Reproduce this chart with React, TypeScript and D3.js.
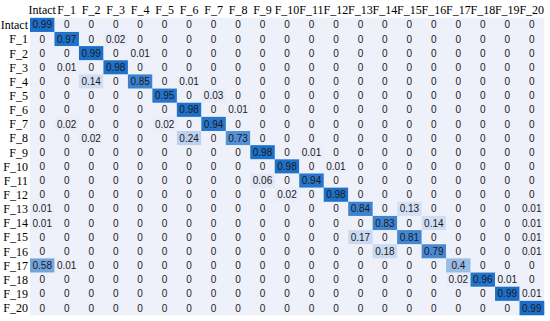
import React from "react";
import * as d3 from "d3";

const labels = ["Intact", ...Array.from({ length: 20 }, (_, i) => `F_${i + 1}`)];

// sparse entries per row: [colIndex, value]
const rIntact = [[0, 0.99]];
const rF1 = [[1, 0.97], [3, 0.02]];
const rF2 = [[2, 0.99], [4, 0.01]];
const rF3 = [[1, 0.01], [3, 0.98]];
const rF4 = [[2, 0.14], [4, 0.85], [6, 0.01]];
const rF5 = [[5, 0.95], [7, 0.03]];
const rF6 = [[6, 0.98], [8, 0.01]];
const rF7 = [[1, 0.02], [5, 0.02], [7, 0.94]];
const rF8 = [[2, 0.02], [6, 0.24], [8, 0.73]];
const rF9 = [[9, 0.98], [11, 0.01]];
const rF10 = [[10, 0.98], [12, 0.01]];
const rF11 = [[9, 0.06], [11, 0.94]];
const rF12 = [[10, 0.02], [12, 0.98]];
const rF13 = [[0, 0.01], [13, 0.84], [15, 0.13], [20, 0.01]];
const rF14 = [[0, 0.01], [14, 0.83], [16, 0.14], [20, 0.01]];
const rF15 = [[13, 0.17], [15, 0.81], [20, 0.01]];
const rF16 = [[14, 0.18], [16, 0.79], [20, 0.01]];
const rF17 = [[0, 0.58], [1, 0.01], [17, 0.4]];
const rF18 = [[17, 0.02], [18, 0.96], [19, 0.01]];
const rF19 = [[19, 0.99], [20, 0.01]];
const rF20 = [[20, 0.99]];

const rows = [rIntact, rF1, rF2, rF3, rF4, rF5, rF6, rF7, rF8, rF9, rF10, rF11, rF12, rF13, rF14, rF15, rF16, rF17, rF18, rF19, rF20];

const matrix: number[][] = rows.map((r) => {
  const a = new Array(labels.length).fill(0);
  r.forEach(([c, v]) => (a[c] = v));
  return a;
});

export default function App() {
  const W = 550, H = 321;
  const left = 30, right = 544, top = 17.8, bottom = 315;
  const x = d3.scaleBand<string>().domain(labels).range([left, right]);
  const y = d3.scaleBand<string>().domain(labels).range([top, bottom]);
  const color = d3.scaleLinear<string>().domain([0, 1]).range(["#eef0fa", "#1a6ec8"]).interpolate(d3.interpolateRgb);
  const fmt = (v: number) => (v === 0 ? "0" : String(+v.toFixed(2)));
  return (
    <svg width={W} height={H} style={{ position: "absolute", left: 0, top: 0, background: "#fff" }}>
      {matrix.map((row, i) =>
        row.map((v, j) => (
          <rect key={`r${i}-${j}`} x={x(labels[j])} y={y(labels[i])} width={x.bandwidth() + 0.3} height={y.bandwidth() + 0.3} fill={color(v)} />
        ))
      )}
      {matrix.map((row, i) =>
        row.map((v, j) => (
          <text key={`t${i}-${j}`} x={x(labels[j])! + x.bandwidth() / 2} y={y(labels[i])! + y.bandwidth() / 2} dy="0.36em" textAnchor="middle" fontFamily="Liberation Sans, Arial, sans-serif" fontSize={10} fill="#1a1a1a">
            {fmt(v)}
          </text>
        ))
      )}
      {labels.map((l) => (
        <text key={`c${l}`} x={x(l)! + x.bandwidth() / 2} y={10} dy="0.36em" textAnchor="middle" fontFamily="Liberation Serif, Times New Roman, serif" fontSize={12} fill="#000">
          {l}
        </text>
      ))}
      {labels.map((l) => (
        <text key={`rl${l}`} x={28} y={y(l)! + y.bandwidth() / 2} dy="0.36em" textAnchor="end" fontFamily="Liberation Serif, Times New Roman, serif" fontSize={12} fill="#000">
          {l}
        </text>
      ))}
    </svg>
  );
}
